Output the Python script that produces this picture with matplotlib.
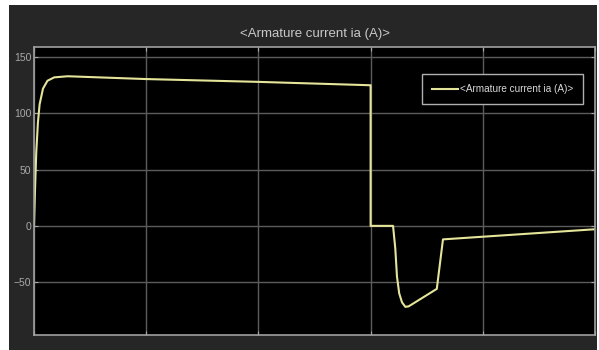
import matplotlib.pyplot as plt
from matplotlib.patches import Rectangle

# armature current trace, read as (time, current) breakpoints
t = [0.0, 0.01, 0.02, 0.035, 0.05, 0.08, 0.12, 0.18, 0.3, 1.0, 2.0, 3.0,
     3.0, 3.2, 3.22, 3.235, 3.255, 3.28, 3.31, 3.34, 3.59, 3.645, 5.0]
ia = [0.0, 35.0, 65.0, 92.0, 108.0, 122.0, 129.0, 132.0, 133.0, 130.5, 128.0, 125.0,
      0.0, 0.0, -20.0, -45.0, -60.0, -68.0, -72.0, -71.5, -56.0, -12.0, -3.0]

label = '<Armature current ia (A)>'
yticks = [-50, 0, 50, 100, 150]
xgrid = [0, 1, 2, 3, 4, 5]

plt.rcParams['font.family'] = ['Liberation Sans', 'DejaVu Sans']

fig = plt.figure(figsize=(5.99, 3.5), dpi=100, facecolor='white')
fig.patches.append(Rectangle((9 / 599, 0), 588 / 599, 345 / 350, transform=fig.transFigure,
                             facecolor='#262626', edgecolor='none', zorder=-1))

ax = fig.add_axes([34 / 599, 15 / 350, 561 / 599, 288 / 350])
ax.set_facecolor('black')

ax.plot(t, ia, color='#e4e49a', lw=1.5, label=label)

ax.set_xlim(0, 5)
ax.set_ylim(-97, 159)
ax.set_xticks(xgrid)
ax.set_xticklabels([])
ax.set_yticks(yticks)
ax.grid(True, color='#5c5c5c', lw=1.0)
ax.tick_params(direction='in', length=3, colors='#a8a8a8', labelsize=7.5,
               top=True, right=True, pad=2)
for s in ax.spines.values():
    s.set_color('#a0a0a0')
    s.set_linewidth(1.2)

ax.set_title(label, color='#c8c8c8', fontsize=9.5, pad=7)

leg = ax.legend(loc='upper right', bbox_to_anchor=(0.979, 0.906), borderaxespad=0,
                facecolor='black', edgecolor='#b0b0b0', framealpha=1, fancybox=False,
                fontsize=7.2, handlelength=2.6, handletextpad=0.2, borderpad=1.0)
for txt in leg.get_texts():
    txt.set_color('#d8d8d8')

fig.savefig('out.png', dpi=100, facecolor=fig.get_facecolor())
